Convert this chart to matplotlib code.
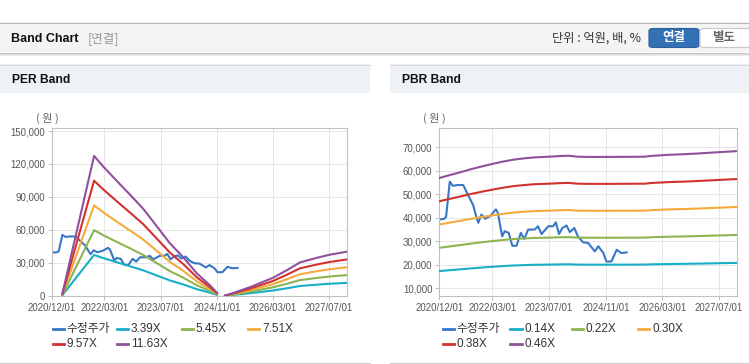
import matplotlib
matplotlib.use("Agg")
import matplotlib.pyplot as plt
import pandas as pd
from matplotlib.lines import Line2D
from matplotlib.patches import Rectangle, FancyBboxPatch
from matplotlib.ticker import FuncFormatter

# ---- data ----
price_dates = ['2020-12-01', '2021-01-10', '2021-01-28', '2021-03-01', '2021-03-28', '2021-05-10',
               '2021-06-25', '2021-08-05', '2021-09-18', '2021-10-15', '2021-11-01', '2021-11-28',
               '2021-12-28', '2022-02-10', '2022-04-01', '2022-04-18', '2022-05-25', '2022-06-15',
               '2022-07-20', '2022-08-20', '2022-09-25', '2022-11-01', '2022-12-01', '2023-01-03',
               '2023-03-01', '2023-03-28', '2023-04-28', '2023-06-25', '2023-08-05', '2023-08-28',
               '2023-09-25', '2023-10-25', '2023-11-28', '2023-12-28', '2024-02-03', '2024-03-05',
               '2024-04-18', '2024-06-01', '2024-07-28', '2024-08-28', '2024-10-10', '2024-11-05',
               '2024-12-18', '2025-02-01', '2025-03-12', '2025-04-28']
price = [39300, 39500, 40400, 55400, 53600, 54000, 53900, 49700, 45400, 40400, 37900, 41400,
         39600, 40700, 43600, 42100, 32100, 34300, 33600, 28100, 28100, 33600, 31000, 35000,
         35000, 36400, 33100, 36400, 36400, 38100, 33100, 35700, 36700, 33900, 35700, 32100,
         29600, 29300, 25700, 27900, 25000, 21400, 21400, 26400, 25000, 25300]

# EPS used by the PER band (two segments)
eps_dates_a = ['2021-03-01', '2021-12-01', '2022-02-15', '2022-06-15', '2022-10-10', '2023-02-01',
               '2023-06-01', '2023-09-20', '2024-01-15', '2024-05-10', '2024-09-01', '2024-11-01']
eps_a = [150, 10950, 10150, 9000, 7900, 6800, 5400, 4100, 3000, 1750, 820, 230]
eps_dates_b = ['2025-01-10', '2025-08-10', '2026-03-01', '2026-07-01', '2026-10-20', '2027-03-10',
               '2027-07-01', '2027-12-04']
eps_b = [0, 650, 1400, 2000, 2600, 2950, 3200, 3450]
per_mult = [3.39, 5.45, 7.51, 9.57, 11.63]

# BPS used by the PBR band
bps_dates = ['2020-12-01', '2021-03-01', '2021-06-15', '2021-09-01', '2021-12-01', '2022-03-01',
             '2022-06-01', '2022-09-01', '2022-12-01', '2023-03-01', '2023-07-01', '2023-10-01',
             '2023-12-15', '2024-03-01', '2024-06-01', '2024-12-01', '2025-06-01', '2025-10-01',
             '2025-12-01', '2026-05-01', '2026-09-01', '2027-01-01', '2027-05-01', '2027-09-01',
             '2027-12-04']
bps = [123800, 126500, 129600, 132000, 134500, 136800, 139000, 140800, 142000, 142900, 143500,
       144100, 144400, 143500, 143300, 143300, 143400, 143500, 144300, 145300, 145800, 146500,
       147300, 148100, 148700]
pbr_mult = [0.14, 0.22, 0.30, 0.38, 0.46]

xtick_labels = ['2020/12/01', '2022/03/01', '2023/07/01', '2024/11/01', '2026/03/01', '2027/07/01']
per_yticks = [0, 30000, 60000, 90000, 120000, 150000]
pbr_yticks = [10000, 20000, 30000, 40000, 50000, 60000, 70000]

price_col = '#3877c6'
band_cols = ['#17afc6', '#8cb450', '#f5aa3c', '#d2322d', '#91509b']

# ---- figure ----
W, H = 749, 364
fig = plt.figure(figsize=(W / 100, H / 100), dpi=100)
fig.patch.set_facecolor('white')
LAT = ['Liberation Sans', 'Noto Sans CJK KR']
KOR = ['Noto Sans CJK KR', 'DejaVu Sans']


def fx(x):
    return x / W


def fy(y):
    return 1 - y / H


def rect(x0, y0, x1, y1, fc, **kw):
    fig.add_artist(Rectangle((fx(x0), fy(y1)), fx(x1 - x0), (y1 - y0) / H,
                             transform=fig.transFigure, fc=fc, ec='none', **kw))


def hline(x0, x1, y, col, lw=1):
    fig.add_artist(Line2D([fx(x0), fx(x1)], [fy(y), fy(y)], transform=fig.transFigure,
                          color=col, lw=lw * 0.72))


# header bar
rect(0, 22, W, 52, '#f4f4f4')
hline(0, W, 22.5, '#b8b8b8')
hline(0, W, 52.5, '#c4c4c4')
hline(0, W, 53.5, '#dddddd')
hline(0, W, 54.5, '#ececec')
fig.text(fx(11), fy(38.5), 'Band Chart', family=LAT, weight='bold', size=9, va='center',
         color='#111111')
fig.text(fx(88), fy(38.5), '[연결]', family=KOR, size=9, va='center', color='#999999')
fig.text(fx(552), fy(38.5), '단위 : 억원, 배, %', family=KOR, size=8.8, va='center', color='#333333')
fig.add_artist(FancyBboxPatch((fx(649), fy(47.5)), fx(50), 19 / H, boxstyle='round,pad=0,rounding_size=0.006',
                              transform=fig.transFigure, fc='#3470b4', ec='#2b5f9e', lw=0.8))
fig.add_artist(FancyBboxPatch((fx(700), fy(47.5)), fx(52), 19 / H, boxstyle='round,pad=0,rounding_size=0.006',
                              transform=fig.transFigure, fc='white', ec='#c8c8c8', lw=0.8))
fig.text(fx(674), fy(38), '연결', family=KOR, size=9, weight='bold', ha='center', va='center', color='white')
fig.text(fx(724), fy(38), '별도', family=KOR, size=9, weight='bold', ha='center', va='center', color='#666666')

panels = [
    dict(x0=0, x1=370, title='PER Band', ax=(52, 347), label_x=47),
    dict(x0=390, x1=W, title='PBR Band', ax=(439.3, 737.3), label_x=434),
]

for p in panels:
    rect(p['x0'], 64, p['x1'], 92.5, '#eef2f7')
    hline(p['x0'], p['x1'], 64.5, '#d6d6d6')
    hline(p['x0'], p['x1'], 363, '#cfcfcf')
    fig.text(fx(p['x0'] + 11.5), fy(80), p['title'], family=LAT, weight='bold', size=8.7,
             va='center', color='#111111')
    fig.text(fx(p['label_x']), fy(118.5), '( 원 )', family=KOR, size=8, ha='center', va='center',
             color='#666666')

xmin, xmax = pd.Timestamp('2020-12-01'), pd.Timestamp('2027-12-04')
xticks = pd.to_datetime([s.replace('/', '-') for s in xtick_labels])


def make_ax(left, right, ylim, yticks):
    ax = fig.add_axes([fx(left), fy(295.7), fx(right - left), (295.7 - 128.3) / H])
    ax.set_xlim(xmin, xmax)
    ax.set_ylim(*ylim)
    ax.set_xticks(xticks)
    ax.set_xticklabels(xtick_labels)
    ax.set_yticks(yticks)
    ax.set_yticklabels([f'{v:,}' for v in yticks])
    for s in ax.spines.values():
        s.set_color('#c0c0c0')
        s.set_linewidth(0.8)
    ax.grid(True, color='#e6e6e6', lw=0.7)
    ax.set_axisbelow(True)
    ax.tick_params(length=3, width=0.7, color='#c0c0c0', pad=2, labelcolor='#555555', labelsize=6.9)
    for lab in ax.get_xticklabels() + ax.get_yticklabels():
        lab.set_family(LAT)
    return ax


pd_price = pd.to_datetime(price_dates)

# PER band
ax1 = make_ax(*panels[0]['ax'], (0, 152500), per_yticks)
ax1.plot(pd_price, price, color=price_col, lw=1.5, zorder=2)
da, db = pd.to_datetime(eps_dates_a), pd.to_datetime(eps_dates_b)
for m, c in zip(per_mult, band_cols):
    ax1.plot(da, [m * e for e in eps_a], color=c, lw=1.5, zorder=3)
    ax1.plot(db, [m * e for e in eps_b], color=c, lw=1.5, zorder=3)

# PBR band
ax2 = make_ax(*panels[1]['ax'], (6850, 78100), pbr_yticks)
ax2.plot(pd_price, price, color=price_col, lw=1.5, zorder=2)
dbps = pd.to_datetime(bps_dates)
for m, c in zip(pbr_mult, band_cols):
    ax2.plot(dbps, [m * b for b in bps], color=c, lw=1.5, zorder=3)


# legends drawn by hand (fixed column positions as in the reference)
def legend(entries, xs):
    rows = [329.3, 344]
    for i, (name, col) in enumerate(entries):
        x = xs[i % 4]
        y = rows[i // 4]
        fig.add_artist(Line2D([fx(x), fx(x + 11)], [fy(y), fy(y)], transform=fig.transFigure,
                              color=col, lw=2))
        fig.text(fx(x + 14), fy(y), name, family=LAT, size=8.5, va='center', color='#333333')


legend([('수정주가', price_col)] + [(f'{m:.2f}X', c) for m, c in zip(per_mult, band_cols)],
       [52.7, 117, 181.7, 248])
legend([('수정주가', price_col)] + [(f'{m:.2f}X', c) for m, c in zip(pbr_mult, band_cols)],
       [442.7, 510.5, 571.7, 638.3])

fig.savefig('out.png', dpi=100)
